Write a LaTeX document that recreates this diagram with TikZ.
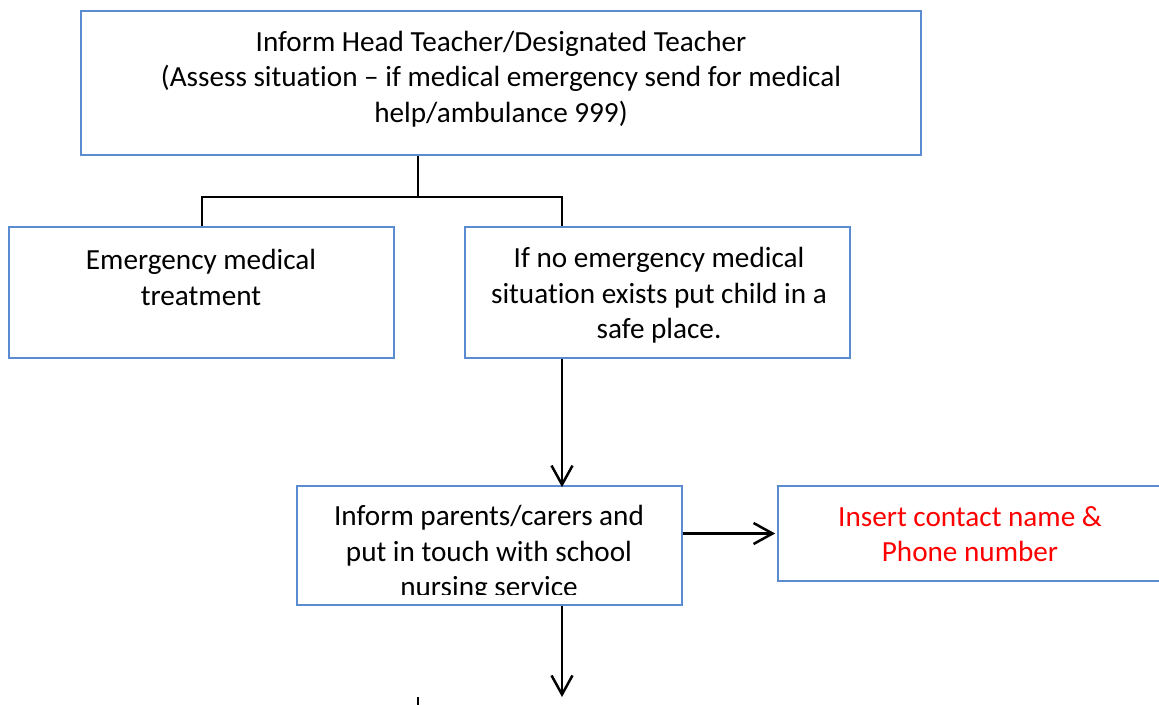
\documentclass[tikz,border=0pt]{standalone}
\usepackage{fontspec}
\setmainfont{Carlito}[Ligatures=NoCommon]
\usetikzlibrary{arrows.meta}
\definecolor{boxblue}{HTML}{5B8BD0}
\tikzset{
  flowbox/.style={draw=boxblue, line width=1.7pt, inner sep=0pt},
  boxtext/.style={align=center, inner sep=0pt, font=\fontsize{29.2}{35.5}\selectfont},
  conn/.style={draw=black, line width=2.5pt},
  arr/.style={conn, -{Straight Barb[length=19pt,width=21pt,line width=2.5pt]}},
}
\begin{document}
\begin{tikzpicture}[x=1pt,y=-1pt]
\clip (0,0) rectangle (1159,704);
\fill[white] (0,0) rectangle (1159,704);
% boxes
\node[flowbox, minimum width=840pt, minimum height=144pt] (top) at (501,83) {};
\node[flowbox, minimum width=385pt, minimum height=131pt] (emerg) at (201.5,292.5) {};
\node[flowbox, minimum width=385pt, minimum height=131pt] (safe) at (657.5,292.5) {};
\node[flowbox, minimum width=385pt, minimum height=119pt] (parents) at (489.5,545.5) {};
\node[flowbox, minimum width=387pt, minimum height=95pt] (contact) at (971.5,533.5) {};
% texts
\node[boxtext] (toptxt) at (501,79) {Inform Head Teacher/Designated Teacher\\(Assess situation -- if medical emergency send for medical\\help/ambulance 999)};
\node[boxtext] (emergtxt) at (201,277.5) {Emergency medical\\treatment};
\node[boxtext] (safetxt) at (659,295.5) {If no emergency medical\\situation exists put child in a\\safe place.};
\begin{scope}
\clip (299,488) rectangle (680,594);
\node[boxtext] (parentstxt) at (489,553.5) {Inform parents/carers and\\put in touch with school\\nursing service};
\end{scope}
\node[boxtext, text=red] (contacttxt) at (970,534) {Insert contact name \&\\Phone number};
% connectors
\coordinate (j) at (418,197);
\coordinate (jl) at (202,197);
\coordinate (jr) at (562,197);
\coordinate (end) at (562,697);
\coordinate (tick) at (418,697);
\draw[conn, line width=1.6pt] (top.south -| j) -- (j);
\draw[conn] (emerg.north -| jl) -- (jl) -- (jr) -- (safe.north -| jr);
\draw[arr] (safe.south -| jr) -- ([yshift=-2pt]parents.north -| jr);
\draw[arr] (parents.east |- contact.west) -- ([xshift=-2pt]contact.west);
\draw[arr] (parents.south -| jr) -- (end);
\draw[conn] (tick) -- (418,706);
\end{tikzpicture}
\end{document}
